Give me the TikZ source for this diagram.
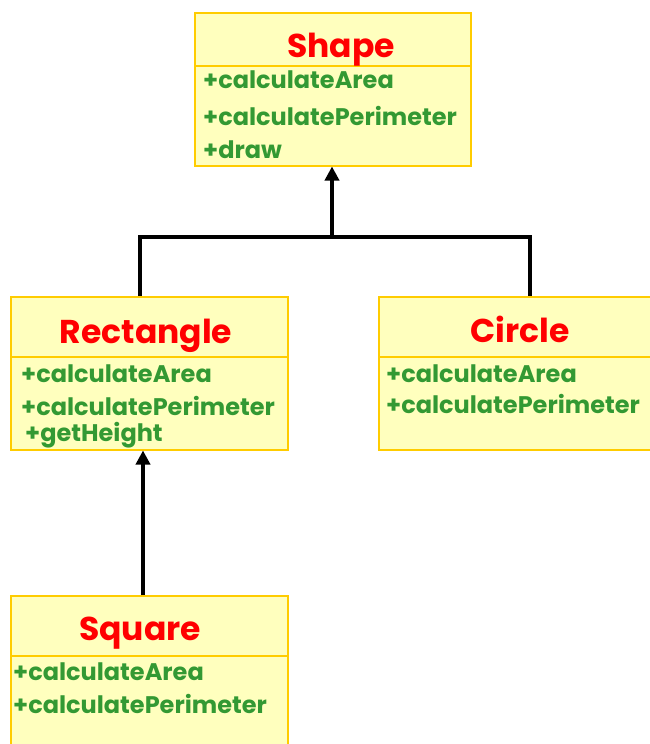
\documentclass[tikz,border=0pt]{standalone}
\usepackage{fontspec}
\setmainfont{Poppins}[BoldFont={* Bold}]
\usetikzlibrary{arrows.meta}
\definecolor{boxfill}{HTML}{FFFFBE}
\definecolor{boxline}{HTML}{FFCC00}
\definecolor{titlered}{HTML}{FF0000}
\definecolor{opgreen}{HTML}{339933}
\tikzset{
  classbox/.style={draw=boxline, fill=boxfill, line width=1.5pt, anchor=north west, inner sep=0pt},
  divider/.style={draw=boxline, line width=1.8pt},
  title/.style={text=titlered, font=\bfseries\fontsize{33}{38}\selectfont, anchor=base, inner sep=0pt},
  op/.style={text=opgreen, font=\bfseries\fontsize{24}{28}\selectfont, anchor=base west, inner sep=0pt},
  conn/.style={line width=4pt, black},
  arr/.style={conn, -{Triangle[length=14pt, width=14pt]}}
}
\begin{document}
\begin{tikzpicture}[x=1pt, y=-1pt]
\useasboundingbox (0,0) rectangle (650,744);
% Shape
\node[classbox, minimum width=276pt, minimum height=153pt] (shape) at (194,12) {};
\draw[divider] (194,66) -- (470,66);
\node[title] (shapeT) at (341,57) {Shape};
\node[op] (s1) at (203,88) {+calculateArea};
\node[op] (s2) at (203,125) {+calculatePerimeter};
\node[op] (s3) at (203,158) {+draw};
% Rectangle
\node[classbox, minimum width=277pt, minimum height=153pt] (rect) at (10,296) {};
\draw[divider] (10,357) -- (287,357);
\node[title] (rectT) at (146,343) {Rectangle};
\node[op] (r1) at (21,382) {+calculateArea};
\node[op] (r2) at (21,415) {+calculatePerimeter};
\node[op] (r3) at (25,441) {+getHeight};
% Circle
\node[classbox, minimum width=280pt, minimum height=153pt] (circ) at (378,296) {};
\draw[divider] (378,357) -- (650,357);
\node[title] (circT) at (520,342) {Circle};
\node[op] (c1) at (386,382) {+calculateArea};
\node[op] (c2) at (386,413) {+calculatePerimeter};
% Square
\node[classbox, minimum width=277pt, minimum height=160pt] (sq) at (10,595) {};
\draw[divider] (10,656) -- (287,656);
\node[title] (sqT) at (140,640) {Square};
\node[op] (q1) at (13,680) {+calculateArea};
\node[op] (q2) at (13,713) {+calculatePerimeter};
% Connectors
\coordinate (j) at (332,237);
\coordinate (jl) at (140,237);
\coordinate (jr) at (530,237);
\draw[conn] (rect.north -| jl) -- (jl) -- (jr) -- (circ.north -| jr);
\draw[arr] (j) -- (j |- shape.south);
\draw[arr] (sq.north -| 143,0) -- (rect.south -| 143,0);
\end{tikzpicture}
\end{document}
